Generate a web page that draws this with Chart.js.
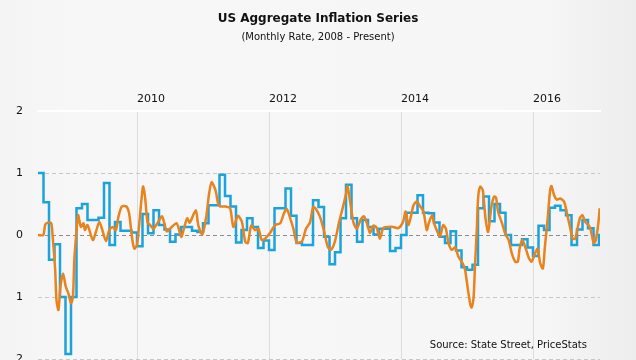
<!DOCTYPE html>
<html>
<head>
<meta charset="utf-8">
<script src="https://cdn.jsdelivr.net/npm/chart.js@4.4.1/dist/chart.umd.min.js"></script>
<style>
  html, body { margin: 0; padding: 0; background: #f6f6f6; }
  #wrap { width: 636px; height: 360px; }
</style>
</head>
<body>
<div id="wrap"><canvas id="inflationChart" width="636" height="360"></canvas></div>
<script>
// monthly series (official CPI, m/m %), first month = Jul 2008
const cpiStartYear = 2008.5;
const cpiMonthly = [
  1.0, 0.53, -0.4, -0.15, -1.0, -1.92, -1.0, 0.43, 0.5, 0.24, 0.24, 0.28,
  0.84, -0.16, 0.21, 0.07, 0.07, 0.04, -0.18, 0.34, 0.03, 0.40, 0.16, 0.09,
  -0.11, 0.01, 0.13, 0.13, 0.07, 0.05, 0.19, 0.48, 0.48, 0.97, 0.63, 0.46,
  -0.12, 0.08, 0.27, 0.13, -0.21, -0.09, -0.24, 0.43, 0.43, 0.75, 0.31, -0.13,
  -0.16, -0.16, 0.56, 0.45, -0.03, -0.47, -0.28, 0.27, 0.81, 0.27, -0.11, 0.24,
  0.13, 0.01, 0.10, 0.10, -0.26, -0.21, 0.0, 0.36, 0.36, 0.64, 0.36, 0.35,
  0.2, -0.03, -0.13, 0.06, -0.25, -0.52, -0.56, -0.48, 0.43, 0.62, 0.22, 0.5,
  0.36, 0.0, -0.16, -0.16, -0.07, -0.2, -0.34, 0.15, 0.08, 0.44, 0.47, 0.40,
  0.32, -0.16, 0.09, 0.24, 0.11, -0.16, 0.02
];

// daily PriceStats series (sampled), dates in decimal years
const psDates = [
  2008.50, 2008.58, 2008.61, 2008.65, 2008.70, 2008.72, 2008.76, 2008.78, 2008.81, 2008.84,
  2008.88, 2008.92, 2008.96, 2009.00, 2009.03, 2009.05, 2009.10, 2009.11, 2009.15, 2009.19,
  2009.21, 2009.25, 2009.33, 2009.38, 2009.43, 2009.48, 2009.53, 2009.58, 2009.63, 2009.68,
  2009.72, 2009.77, 2009.84, 2009.88, 2009.93, 2009.96, 2010.00, 2010.03, 2010.09, 2010.12,
  2010.16, 2010.20, 2010.25, 2010.32, 2010.38, 2010.45, 2010.50, 2010.60, 2010.67, 2010.71,
  2010.76, 2010.80, 2010.89, 2010.93, 2010.99, 2011.05, 2011.09, 2011.13, 2011.19, 2011.23,
  2011.26, 2011.33, 2011.41, 2011.46, 2011.53, 2011.59, 2011.64, 2011.68, 2011.73, 2011.79,
  2011.84, 2011.89, 2011.94, 2012.02, 2012.09, 2012.17, 2012.23, 2012.27, 2012.33, 2012.37,
  2012.42, 2012.50, 2012.56, 2012.62, 2012.67, 2012.71, 2012.77, 2012.83, 2012.89, 2012.94,
  2013.00, 2013.06, 2013.12, 2013.17, 2013.19, 2013.23, 2013.28, 2013.33, 2013.39, 2013.44,
  2013.49, 2013.53, 2013.58, 2013.63, 2013.68, 2013.73, 2013.81, 2013.88, 2013.96, 2014.03,
  2014.07, 2014.11, 2014.15, 2014.19, 2014.24, 2014.29, 2014.34, 2014.39, 2014.42, 2014.47,
  2014.50, 2014.54, 2014.59, 2014.64, 2014.68, 2014.72, 2014.77, 2014.82, 2014.87, 2014.93,
  2014.97, 2015.01, 2015.05, 2015.07, 2015.10, 2015.12, 2015.15, 2015.17, 2015.20, 2015.24,
  2015.28, 2015.32, 2015.37, 2015.41, 2015.44, 2015.47, 2015.53, 2015.58, 2015.63, 2015.68,
  2015.73, 2015.77, 2015.80, 2015.84, 2015.89, 2015.94, 2015.98, 2016.03, 2016.07, 2016.11,
  2016.15, 2016.18, 2016.22, 2016.26, 2016.28, 2016.32, 2016.36, 2016.41, 2016.47, 2016.52,
  2016.56, 2016.60, 2016.64, 2016.67, 2016.71, 2016.75, 2016.79, 2016.84, 2016.87, 2016.92,
  2016.95, 2016.99, 2017.01
];
const psValues = [
  0.0, 0.0, 0.17, 0.2, 0.19, 0.0, -0.56, -1.05, -1.21, -0.83,
  -0.62, -0.83, -0.94, -1.1, -1.0, -0.4, 0.27, 0.32, 0.13, 0.19,
  0.08, 0.16, -0.08, 0.06, 0.21, 0.06, -0.1, 0.08, 0.13, 0.08,
  0.3, 0.46, 0.46, 0.35, -0.08, -0.22, -0.16, 0.13, 0.78, 0.63,
  0.2, 0.16, 0.1, 0.21, 0.3, 0.06, 0.1, 0.19, -0.03, 0.1,
  0.27, 0.2, 0.40, 0.15, 0.01, 0.3, 0.65, 0.85, 0.72, 0.5,
  0.46, 0.46, 0.43, 0.13, 0.31, 0.21, -0.11, -0.13, 0.15, 0.08,
  0.1, -0.08, -0.06, 0.04, 0.16, 0.19, 0.36, 0.42, 0.24, 0.1,
  -0.12, -0.1, 0.1, 0.2, 0.45, 0.42, 0.3, 0.08, -0.19, -0.24,
  -0.1, 0.2, 0.45, 0.68, 0.79, 0.53, 0.2, 0.1, 0.25, 0.3,
  0.17, 0.03, 0.15, 0.12, -0.06, 0.11, 0.13, 0.13, 0.11, 0.21,
  0.38, 0.16, 0.3, 0.48, 0.54, 0.46, 0.38, 0.08, 0.19, 0.32,
  0.19, 0.08, -0.02, 0.16, 0.1, -0.13, -0.24, -0.2, -0.35, -0.45,
  -0.56, -0.85, -1.12, -1.17, -1.0, -0.51, 0.13, 0.62, 0.78, 0.72,
  0.27, 0.05, 0.46, 0.62, 0.6, 0.38, 0.19, 0.02, -0.08, -0.3,
  -0.43, -0.43, -0.2, -0.08, -0.22, -0.38, -0.43, -0.3, -0.22, -0.46,
  -0.54, -0.19, 0.24, 0.73, 0.79, 0.64, 0.57, 0.59, 0.54, 0.32,
  0.13, -0.06, -0.06, 0.08, 0.27, 0.32, 0.21, 0.16, 0.1, -0.13,
  -0.09, 0.19, 0.43
];

const yearTicks = [2010, 2012, 2014, 2016];
const rateTicks = [-2, -1, 0, 1, 2];

const titleText = 'US Aggregate Inflation Series';
const subtitleText = '(Monthly Rate, 2008 - Present)';
const sourceText = 'Source: State Street, PriceStats';

const FONT = '"DejaVu Sans", Verdana, sans-serif';

const cpiPoints = cpiMonthly.map((v, i) => ({ x: cpiStartYear + i / 12, y: v }));
const psPoints = psDates.map((d, i) => ({ x: d, y: psValues[i] }));

// background, titles and source note
const decorPlugin = {
  id: 'decor',
  beforeDraw(chart) {
    const { ctx, width, height } = chart;
    const g = ctx.createLinearGradient(0, 0, width, 0);
    g.addColorStop(0, '#f4f4f4');
    g.addColorStop(0.12, '#f7f7f7');
    g.addColorStop(0.85, '#f6f6f6');
    g.addColorStop(1, '#ededed');
    ctx.save();
    ctx.fillStyle = g;
    ctx.fillRect(0, 0, width, height);
    ctx.restore();
  },
  afterDraw(chart) {
    const { ctx, chartArea } = chart;
    ctx.save();
    ctx.fillStyle = '#111';
    ctx.textAlign = 'center';
    ctx.textBaseline = 'middle';
    ctx.font = 'bold 12px ' + FONT;
    ctx.fillText(titleText, chart.width / 2, 19);
    ctx.font = '10px ' + FONT;
    ctx.fillText(subtitleText, chart.width / 2, 37);
    ctx.textAlign = 'right';
    ctx.textBaseline = 'alphabetic';
    ctx.fillText(sourceText, chartArea.right - 13, chartArea.bottom - 11);
    ctx.restore();
  }
};

new Chart(document.getElementById('inflationChart'), {
  type: 'line',
  data: {
    datasets: [
      {
        label: 'PriceStats',
        data: psPoints,
        borderColor: '#e8831d',
        borderWidth: 2.5,
        pointRadius: 0,
        tension: 0.25,
        order: 0
      },
      {
        label: 'CPI',
        data: cpiPoints,
        borderColor: '#1ba3dc',
        borderWidth: 2.5,
        pointRadius: 0,
        stepped: true,
        order: 1
      }
    ]
  },
  options: {
    responsive: false,
    animation: false,
    layout: { padding: { top: 87, right: 36, bottom: 1, left: 0 } },
    plugins: {
      legend: { display: false },
      tooltip: { enabled: false }
    },
    scales: {
      x: {
        type: 'linear',
        position: 'top',
        min: 2008.5,
        max: 2017.015,
        afterBuildTicks: s => { s.ticks = yearTicks.map(v => ({ value: v })); },
        afterFit: s => { s.height = 24; s.paddingLeft = 0; s.paddingRight = 0; },
        grid: { color: '#dcdcdc', lineWidth: 1, drawTicks: false },
        border: { display: true, color: '#ffffff', width: 2 },
        ticks: {
          align: 'start',
          padding: 5,
          color: '#111',
          font: { family: FONT, size: 11 },
          callback: v => String(v)
        }
      },
      y: {
        min: -2,
        max: 2,
        afterBuildTicks: s => { s.ticks = rateTicks.map(v => ({ value: v })); },
        // keep the last tick label from pushing the plot bottom up
        afterFit: s => { s.width = 38; s.paddingTop = 0; s.paddingBottom = 0; },
        grid: {
          drawTicks: false,
          lineWidth: 1,
          color: c => c.tick.value === 2 ? 'rgba(0,0,0,0)' : (c.tick.value === 0 ? '#8c8c8c' : '#c8c8c8')
        },
        border: { display: false, dash: [4, 3] },
        ticks: {
          padding: 15,
          color: '#111',
          font: { family: FONT, size: 11 },
          callback: v => String(Math.abs(v))
        }
      }
    }
  },
  plugins: [decorPlugin]
});
</script>
</body>
</html>
